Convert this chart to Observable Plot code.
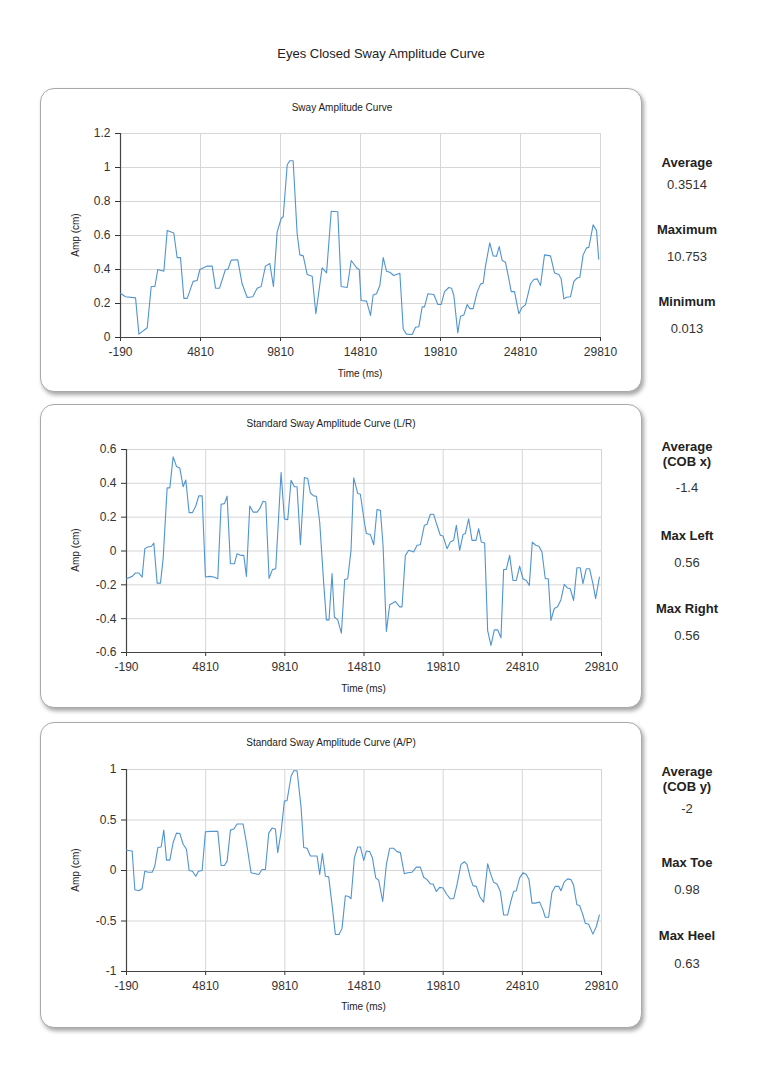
<!DOCTYPE html>
<html>
<head>
<meta charset="utf-8">
<script src="https://cdn.jsdelivr.net/npm/d3@7"></script>
<script src="https://cdn.jsdelivr.net/npm/@observablehq/plot@0.6"></script>
<style>
  html, body { margin: 0; padding: 0; background: #fff; }
  #page { position: relative; width: 762px; height: 1080px; font-family: "Liberation Sans", Arial, sans-serif; color: #222; overflow: hidden; }
  .panel { position: absolute; box-sizing: border-box; border: 1.5px solid #a9a9a9; border-radius: 14px; background: #fff; box-shadow: 2px 3px 4px rgba(0,0,0,0.35); }
  .t { position: absolute; transform: translate(-50%, -50%); white-space: nowrap; }
  .chart { position: absolute; }
  .lab { font-weight: bold; font-size: 13px; text-align: center; line-height: 15px; color: #222; }
  .val { font-size: 13px; color: #333; }
  .small { font-size: 10px; color: #222; }
</style>
</head>
<body>
<div id="page"></div>
<script>
// ---------- data ----------
const xTicks = [-190, 4810, 9810, 14810, 19810, 24810, 29810];

// Sway Amplitude Curve
const swayT = [-190,120,750,960,1480,1730,1960,2140,2520,2730,3140,3350,3560,3770,3980,4350,4600,4770,5230,5540,5750,6000,6370,6520,6730,7140,7410,7730,8080,8350,8600,8870,9140,9370,9600,9850,9980,10230,10390,10600,10850,11020,11230,11480,11790,12020,12410,12690,12980,13390,13600,13980,14230,14560,14730,14850,15190,15435,15600,15810,16020,16230,16435,16640,16890,17270,17480,17685,18040,18250,18455,18665,18810,19020,19390,19645,19850,20060,20330,20500,20645,20890,21060,21270,21480,21645,21850,22100,22310,22480,22620,22890,23100,23310,23480,23665,23870,24080,24230,24435,24705,24915,25120,25435,25645,25850,26060,26310,26685,26935,27205,27350,27520,27685,27935,28145,28350,28520,28725,28935,29080,29350,29560,29700];
const swayV = [0.26,0.24,0.233,0.02,0.057,0.30,0.30,0.40,0.39,0.63,0.615,0.47,0.47,0.23,0.23,0.33,0.335,0.40,0.42,0.42,0.29,0.29,0.40,0.40,0.455,0.457,0.316,0.235,0.24,0.29,0.30,0.42,0.435,0.30,0.62,0.70,0.71,1.016,1.04,1.04,0.61,0.486,0.48,0.37,0.36,0.14,0.41,0.38,0.743,0.74,0.30,0.294,0.453,0.41,0.40,0.218,0.214,0.13,0.25,0.257,0.306,0.47,0.39,0.384,0.365,0.378,0.05,0.02,0.018,0.06,0.063,0.18,0.18,0.257,0.253,0.194,0.194,0.27,0.294,0.29,0.247,0.027,0.125,0.133,0.194,0.17,0.17,0.267,0.314,0.32,0.42,0.557,0.48,0.478,0.535,0.453,0.443,0.345,0.27,0.27,0.14,0.178,0.192,0.316,0.341,0.345,0.306,0.486,0.48,0.38,0.37,0.345,0.227,0.237,0.24,0.33,0.35,0.355,0.486,0.527,0.53,0.663,0.63,0.46];
const swayYTicks = [0, 0.2, 0.4, 0.6, 0.8, 1, 1.2];

// Standard Sway Amplitude Curve (L/R)
const lrT = [-190,168,378,588,799,967,1156,1388,1535,1746,1956,2124,2377,2545,2756,2966,3176,3387,3555,3765,3976,4186,4376,4586,4796,5070,5322,5575,5785,5996,6164,6374,6627,6795,7048,7216,7384,7595,7805,8058,8226,8436,8605,8815,9025,9236,9572,9783,9993,10204,10414,10582,10793,11045,11256,11424,11634,11803,12013,12266,12434,12602,12792,12939,13149,13381,13591,13780,13990,14159,14414,14582,14835,14961,15213,15424,15634,15845,16013,16223,16434,16791,17065,17212,17423,17633,17949,18159,18369,18622,18790,19001,19211,19421,19632,19800,20053,20263,20473,20642,20852,21063,21210,21420,21631,21883,22051,22220,22430,22619,22830,23040,23251,23461,23629,23798,24008,24219,24429,24640,24850,25060,25250,25439,25649,25860,26049,26259,26449,26617,26827,27038,27248,27459,27669,27837,28048,28258,28469,28637,28847,29058,29268,29437,29680];
const lrV = [-0.164,-0.15,-0.13,-0.13,-0.154,0.014,0.024,0.028,0.047,-0.19,-0.19,-0.045,0.373,0.373,0.557,0.50,0.49,0.38,0.42,0.227,0.227,0.266,0.326,0.326,-0.154,-0.15,-0.154,-0.164,0.276,0.28,0.324,-0.075,-0.075,-0.016,-0.026,-0.026,-0.15,0.266,0.23,0.23,0.25,0.294,0.29,-0.162,-0.11,-0.105,0.464,0.19,0.185,0.418,0.38,0.38,0.037,0.434,0.428,0.343,0.326,0.324,0.17,-0.193,-0.407,-0.407,-0.134,-0.39,-0.407,-0.486,-0.168,-0.164,0.004,0.432,0.34,0.335,0.17,0.103,0.097,0.037,0.245,0.24,0.034,-0.476,-0.318,-0.298,-0.33,-0.33,-0.026,0.004,-0.006,0.034,0.037,0.152,0.158,0.217,0.217,0.152,0.093,0.089,0.014,0.053,0.063,0.152,0.004,0.097,0.103,0.19,0.063,0.063,0.132,0.053,0.047,-0.47,-0.558,-0.466,-0.466,-0.513,-0.109,-0.109,-0.026,-0.174,-0.174,-0.089,-0.164,-0.174,-0.203,0.053,0.034,0.028,-0.006,-0.164,-0.164,-0.41,-0.34,-0.33,-0.288,-0.197,-0.219,-0.223,-0.292,-0.099,-0.099,-0.193,-0.105,-0.105,-0.193,-0.282,-0.154];
const lrYTicks = [-0.6, -0.4, -0.2, 0, 0.2, 0.4, 0.6];

// Standard Sway Amplitude Curve (A/P)
const apT = [-190,168,336,588,799,967,1178,1430,1598,1788,1998,2166,2335,2545,2756,2966,3176,3387,3597,3765,3976,4186,4355,4586,4796,5112,5575,5785,5996,6164,6374,6585,6795,7174,7384,7679,7952,8163,8373,8584,8794,9004,9215,9362,9572,9783,9951,10204,10372,10582,10835,11003,11214,11424,11676,11845,12013,12181,12371,12581,12792,13002,13233,13423,13633,13844,13990,14203,14414,14582,14793,14961,15171,15340,15550,15739,15992,16223,16434,16686,16897,17107,17359,17570,17843,18117,18369,18580,18790,19001,19169,19379,19590,19800,20053,20263,20473,20684,20936,21147,21315,21525,21694,21904,22115,22367,22619,22788,22998,23209,23419,23629,23882,24093,24261,24429,24640,24850,25060,25229,25418,25628,25902,26112,26260,26470,26680,26891,27101,27248,27459,27669,27880,28048,28258,28427,28637,28784,28995,29268,29479,29680];
const apV = [0.20,0.193,-0.19,-0.20,-0.18,-0.007,-0.017,-0.017,0.043,0.227,0.233,0.40,0.103,0.103,0.277,0.37,0.367,0.26,0.21,0,-0.007,-0.057,-0.007,0,0.383,0.387,0.387,0.05,0.05,0.093,0.40,0.41,0.46,0.46,0.277,-0.023,-0.033,-0.04,0.01,0.01,0.37,0.42,0.41,0.177,0.383,0.687,0.693,0.933,0.987,0.987,0.627,0.227,0.22,0.143,0.143,0.143,-0.04,0.167,-0.057,-0.063,-0.34,-0.633,-0.633,-0.573,-0.25,-0.257,-0.28,0.127,0.233,0.233,0.10,0.193,0.187,0.127,-0.073,-0.097,-0.307,0.06,0.22,0.22,0.187,0.177,-0.033,-0.023,-0.017,0.033,0.033,-0.067,-0.09,-0.133,-0.133,-0.207,-0.167,-0.173,-0.24,-0.28,-0.28,-0.14,0.06,0.087,0.06,-0.073,-0.15,-0.157,-0.257,-0.313,0.067,-0.023,-0.117,-0.133,-0.207,-0.44,-0.44,-0.30,-0.207,-0.20,-0.073,-0.023,-0.04,-0.09,-0.323,-0.323,-0.313,-0.39,-0.463,-0.463,-0.217,-0.157,-0.157,-0.20,-0.113,-0.083,-0.09,-0.147,-0.34,-0.347,-0.44,-0.523,-0.533,-0.63,-0.557,-0.44];
const apYTicks = [-1, -0.5, 0, 0.5, 1];

// ---------- layout ----------
const page = document.getElementById("page");
function txt(s, x, y, cls) {
  const d = document.createElement("div");
  d.className = "t " + cls;
  d.style.left = x + "px"; d.style.top = y + "px";
  d.innerHTML = s;
  page.appendChild(d);
  return d;
}
function panel(top, h) {
  const p = document.createElement("div");
  p.className = "panel";
  p.style.left = "40px"; p.style.top = top + "px";
  p.style.width = "602px"; p.style.height = h + "px";
  page.appendChild(p);
}

txt("Eyes Closed Sway Amplitude Curve", 381, 53, "").style.fontSize = "13px";

const charts = [
  {ptop: 88, ph: 304, top: 118, h: 270, ml: 80, mr: 40, title: "Sway Amplitude Curve", tx: 342, ty: 107,
   T: swayT, V: swayV, yd: [0, 1.2], yt: swayYTicks, timeY: 373, ampY: 235,
   stats: [["Average", 162], ["0.3514", 184, 1], ["Maximum", 229], ["10.753", 256, 1], ["Minimum", 301], ["0.013", 328, 1]]},
  {ptop: 404, ph: 304, top: 434, h: 269, ml: 86, mr: 39, title: "Standard Sway Amplitude Curve (L/R)", tx: 331, ty: 423,
   T: lrT, V: lrV, yd: [-0.6, 0.6], yt: lrYTicks, timeY: 688, ampY: 550,
   stats: [["Average<br>(COB x)", 454], ["-1.4", 487, 1], ["Max Left", 535], ["0.56", 562, 1], ["Max Right", 608], ["0.56", 635, 1]]},
  {ptop: 722, ph: 306, top: 754, h: 268, ml: 86, mr: 39, title: "Standard Sway Amplitude Curve (A/P)", tx: 331, ty: 742,
   T: apT, V: apV, yd: [-1, 1], yt: apYTicks, timeY: 1006, ampY: 870,
   stats: [["Average<br>(COB y)", 779], ["-2", 808, 1], ["Max Toe", 862], ["0.98", 889, 1], ["Max Heel", 935], ["0.63", 963, 1]]}
];

for (const c of charts) {
  panel(c.ptop, c.ph);
  const data = c.T.map((t, i) => ({t, v: c.V[i]}));
  const svg = Plot.plot({
    width: 600, height: c.h,
    marginLeft: c.ml, marginRight: c.mr, marginTop: 15, marginBottom: 51,
    style: {background: "transparent", fontFamily: "'Liberation Sans', Arial, sans-serif", fontSize: "12px", color: "#333", overflow: "visible"},
    x: {domain: [-190, 29810], ticks: xTicks, tickSize: 4, tickPadding: 6, tickFormat: d => String(d), label: null},
    y: {domain: c.yd, ticks: c.yt, tickSize: 5, tickPadding: 5, tickFormat: d => String(Math.round(d * 10) / 10), label: null},
    marks: [
      Plot.ruleX(xTicks, {stroke: "#d6d6d6", strokeWidth: 1}),
      Plot.ruleY(c.yt, {stroke: "#d6d6d6", strokeWidth: 1}),
      Plot.ruleX([-190], {stroke: "#444", strokeWidth: 1.2}),
      Plot.ruleY([c.yd[0]], {stroke: "#444", strokeWidth: 1.2}),
      Plot.line(data, {x: "t", y: "v", stroke: "#5094d0", strokeWidth: 1.1})
    ]
  });
  const wrap = document.createElement("div");
  wrap.className = "chart";
  wrap.style.left = "40px"; wrap.style.top = c.top + "px";
  wrap.appendChild(svg);
  page.appendChild(wrap);

  txt(c.title, c.tx, c.ty, "small");
  txt("Time (ms)", (40 + c.ml + 640 - c.mr) / 2, c.timeY, "small");
  const a = txt("Amp (cm)", 75, c.ampY, "small");
  a.style.transform = "translate(-50%, -50%) rotate(-90deg)";
  for (const s of c.stats) txt(s[0], 687, s[1], s[2] ? "val" : "lab");
}
</script>
</body>
</html>
